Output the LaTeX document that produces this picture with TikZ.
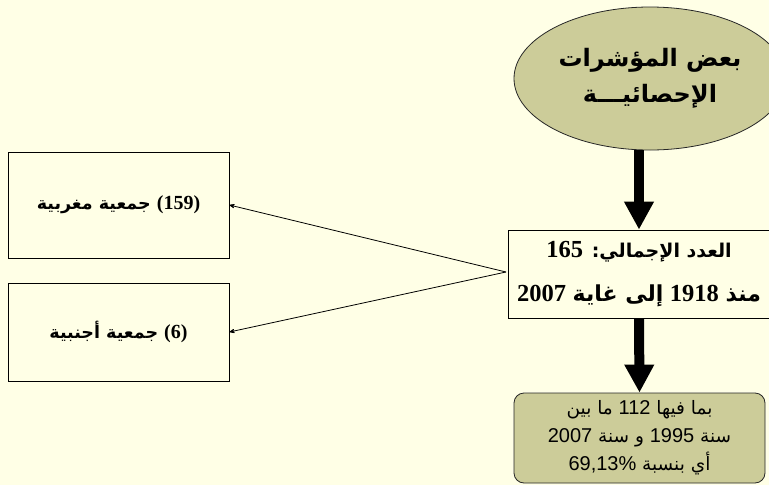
\documentclass[tikz,border=0pt]{standalone}
\usepackage{fontspec}
\usetikzlibrary{arrows,arrows.meta,shapes.geometric}
\TeXXeTstate=1
\newfontfamily\arabicfont[Script=Arabic]{DejaVu Sans}
\newfontfamily\serifdigits{Liberation Serif}
\newfontfamily\sansdigits{Liberation Sans}
\definecolor{paper}{HTML}{FFFFE6}
\definecolor{olive}{HTML}{CCCC99}
\newcommand{\rtl}[1]{\beginR#1\endR}
\newcommand{\ltr}[1]{\beginL#1\endL}
\newcommand{\bnum}[2]{{\serifdigits\bfseries\fontsize{#1}{#1}\selectfont\ltr{#2}}}
\newcommand{\snum}[2]{{\sansdigits\fontsize{#1}{#1}\selectfont\ltr{#2}}}

\begin{document}
\begin{tikzpicture}[x=1pt,y=-1pt,
    box/.style={draw,rectangle,line width=0.8pt,inner sep=0pt,align=center},
    olive box/.style={box,fill=olive,draw=black!85,rounded corners=10pt},
    thin arrow/.style={->,>=stealth',line width=0.8pt},
    thick arrow/.style={-{Triangle[width=28pt,length=28pt]},line width=10pt}]

  \fill[paper] (0,0) rectangle (769,485);
  \useasboundingbox (0,0) rectangle (769,485);

  % top ellipse
  \node[ellipse,draw=black!85,fill=olive,line width=0.8pt,minimum width=272pt,minimum height=143pt,
        inner sep=0pt,align=center,font=\arabicfont\bfseries\fontsize{24}{36}\selectfont] (indic) at (650,78.5)
        {\rtl{بعض المؤشرات}\\\rtl{الإحصائيـــة}};

  % total box
  \node[box,font=\arabicfont\bfseries\fontsize{19}{44}\selectfont,minimum width=262pt,minimum height=88pt] (total) at (639,274)
        {\rtl{العدد الإجمالي: \bnum{24.5}{165}}\\
         \rtl{{\fontsize{22}{44}\selectfont منذ} \bnum{24.5}{1918} {\fontsize{22}{44}\selectfont إلى غاية} \bnum{24.5}{2007}}};

  % share box
  \node[olive box,font=\arabicfont\fontsize{18.5}{28}\selectfont,minimum width=251pt,minimum height=90pt] (share) at (639.5,438)
        {\rtl{بما فيها \snum{20}{112} ما بين}\\
         \rtl{سنة \snum{20}{1995} و سنة \snum{20}{2007}}\\
         \rtl{أي بنسبة \snum{20}{69,13\%}}};

  % left boxes
  \node[box,font=\arabicfont\bfseries\fontsize{17.5}{20}\selectfont,minimum width=221pt,minimum height=106pt] (moroccan) at (118.5,205)
        {\rtl{\bnum{20}{(159)} جمعية مغربية}};
  \node[box,font=\arabicfont\bfseries\fontsize{17.5}{20}\selectfont,minimum width=221pt,minimum height=98pt] (foreign) at (118.5,332)
        {\rtl{\bnum{20}{(6)} جمعية أجنبية}};

  \coordinate (split) at (506,272);

  \draw[thick arrow] (total.north |- indic.south) -- (total.north);
  \draw[thick arrow] (total.south) -- (share.north);
  \draw[thin arrow] (split) -- (moroccan.east);
  \draw[thin arrow] (split) -- (foreign.east);
\end{tikzpicture}
\end{document}
